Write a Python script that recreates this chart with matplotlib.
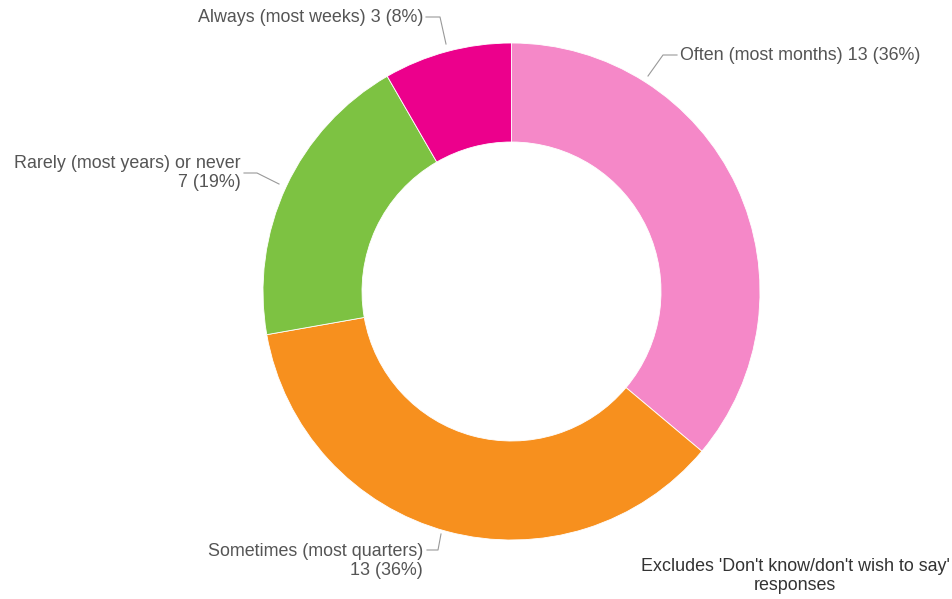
import matplotlib
matplotlib.use('Agg')
import matplotlib.pyplot as plt

# data, clockwise from 12 o'clock
labels = ['Often (most months)', 'Sometimes (most quarters)',
          'Rarely (most years) or never', 'Always (most weeks)']
counts = [13, 13, 7, 3]
pcts = [36, 36, 19, 8]
colors = ['#F588C8', '#F7901E', '#7DC242', '#EC008C']

W, H = 953, 599
CX, CY = 511.5, H - 291.5
R_OUT = 248.5
R_IN = 149.5

plt.rcParams['font.family'] = ['Liberation Sans', 'DejaVu Sans']

fig = plt.figure(figsize=(W / 100, H / 100), dpi=100)
ax = fig.add_axes([0, 0, 1, 1])
ax.pie(counts, colors=colors, startangle=90, counterclock=False,
       center=(CX, CY), radius=R_OUT,
       wedgeprops=dict(width=R_OUT - R_IN, edgecolor='white', linewidth=0.6))
ax.set_xlim(0, W)
ax.set_ylim(0, H)
ax.set_aspect('equal')
ax.axis('off')

TXT = '#555555'
LINE = '#999999'
FS = 12.9
LS = 1.18

def y(p):
    return H - p

# Often
ax.text(680, y(55), f'{labels[0]} {counts[0]} ({pcts[0]}%)', color=TXT,
        fontsize=FS, ha='left', va='center')
ax.plot([677, 663, 648], [y(55), y(55), y(76)], color=LINE, lw=0.8)

# Always
ax.text(423, y(17), f'{labels[3]} {counts[3]} ({pcts[3]}%)', color=TXT,
        fontsize=FS, ha='right', va='center')
ax.plot([426, 440, 446], [y(17), y(17), y(44)], color=LINE, lw=0.8)

# Rarely
ax.text(241, y(173), f'{labels[2]}\n{counts[2]} ({pcts[2]}%)', color=TXT,
        fontsize=FS, ha='right', va='center', multialignment='right',
        linespacing=LS)
ax.plot([244, 257, 279], [y(173), y(173), y(184)], color=LINE, lw=0.8)

# Sometimes
ax.text(423, y(561), f'{labels[1]}\n{counts[1]} ({pcts[1]}%)', color=TXT,
        fontsize=FS, ha='right', va='center', multialignment='right',
        linespacing=LS)
ax.plot([427, 438, 441], [y(550), y(550), y(534)], color=LINE, lw=0.8)

ax.text(795, y(576), "Excludes 'Don't know/don't wish to say'\nresponses",
        color='#333333', fontsize=FS, ha='center', va='center',
        multialignment='center', linespacing=LS)

fig.savefig('out.png', dpi=100)
